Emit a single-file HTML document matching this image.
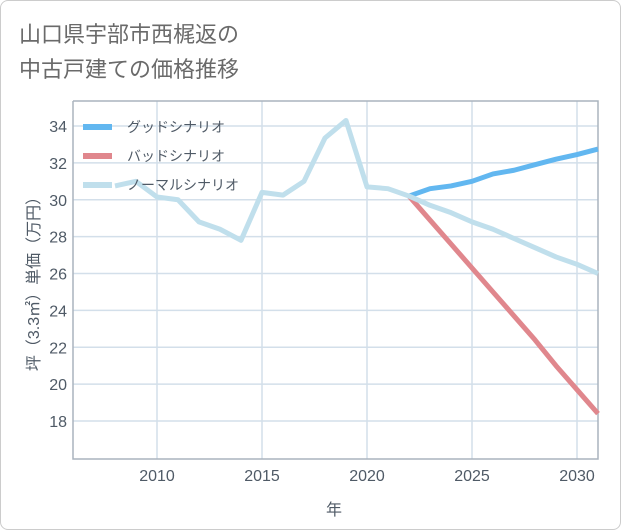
<!DOCTYPE html>
<html><head><meta charset="utf-8"><style>
body{margin:0;background:#fff;}
#wrap{position:relative;width:619px;height:528px;border:1px solid #ccc;border-radius:8px;overflow:hidden;background:#fff;}
text{font-family:"Liberation Sans","Noto Sans CJK JP",sans-serif;}
</style></head><body>
<div id="wrap">
<svg id="chart" width="621" height="530">
<text x="18" y="41" font-size="22" fill="#6a6a6a">山口県宇部市西梶返の</text>
<text x="18" y="76" font-size="22" fill="#6a6a6a">中古戸建ての価格推移</text>
<g id="grid"></g><g id="axes"></g><g id="series"></g><g id="legend"></g>
<text x="333" y="514" font-size="16" fill="#4f5a66" text-anchor="middle">年</text>
<text transform="translate(38,279) rotate(-90)" font-size="16" fill="#4f5a66" text-anchor="middle">坪（3.3㎡）単価（万円）</text>
</svg>
</div>
<script>
const years = [2008,2009,2010,2011,2012,2013,2014,2015,2016,2017,2018,2019,2020,2021,2022,2023,2024,2025,2026,2027,2028,2029,2030,2031];
const normalValues = [30.75,31.0,30.15,30.0,28.8,28.4,27.8,30.4,30.25,31.0,33.35,34.3,30.7,30.6,30.2,29.7,29.3,28.8,28.4,27.9,27.4,26.9,26.5,26.0];
const futureYears = [2022,2023,2024,2025,2026,2027,2028,2029,2030,2031];
const goodValues = [30.2,30.6,30.75,31.0,31.4,31.6,31.9,32.2,32.45,32.75];
const badValues = [30.2,28.9,27.6,26.3,25.0,23.7,22.4,21.0,19.7,18.4];
const xTicks = [2010,2015,2020,2025,2030];
const yTicks = [18,20,22,24,26,28,30,32,34];
const L=72,R=597,T=100,B=458;
const x = y => L + (y-2006)*21;
const yv = v => 125 - (v-34)*18.44;
const NS="http://www.w3.org/2000/svg";
function mk(tag, attrs, parent){const e=document.createElementNS(NS,tag);for(const k in attrs)e.setAttribute(k,attrs[k]);parent.appendChild(e);return e;}
const grid=document.getElementById('grid'), axes=document.getElementById('axes'), series=document.getElementById('series'), legend=document.getElementById('legend');
yTicks.forEach(v=>{
  const l=mk('line',{x1:L,x2:R,y1:yv(v),y2:yv(v),stroke:'#d3dfea','stroke-width':1.5},grid);
  
  
  const t=mk('text',{x:L-6,y:yv(v)+6,'font-size':16,fill:'#4f5a66','text-anchor':'end'},axes);
  t.textContent=v;
  
  
});
xTicks.forEach(v=>{
  const l=mk('line',{x1:x(v),x2:x(v),y1:T,y2:B,stroke:'#d3dfea','stroke-width':1.5},grid);
  
  
  const t=mk('text',{x:x(v),y:B+22,'font-size':16,fill:'#4f5a66','text-anchor':'middle'},axes);
  t.textContent=v;
  
  
});
const frame=mk('path',{d:`M${L},${T}V${B}H${R}V${T}H${L}`,fill:'none',stroke:'#aab4be','stroke-width':1.5},axes);


function line(xs,vs,color,name){
  const p=mk('polyline',{points:xs.map((yy,i)=>x(yy)+','+yv(vs[i])).join(' '),fill:'none',stroke:color,'stroke-width':5,'stroke-linejoin':'round'},series);
  
  
}
line(futureYears,badValues,'#e0878d','bad-scenario-line');
line(futureYears,goodValues,'#62b7f0','good-scenario-line');
line(years,normalValues,'#c0dfec','normal-scenario-line');
const leg=[['グッドシナリオ','#62b7f0','legend-good'],['バッドシナリオ','#e0878d','legend-bad'],['ノーマルシナリオ','#c0dfec','legend-normal']];
leg.forEach((d,i)=>{
  const yy=126+i*29;
  const r=mk('line',{x1:82,x2:111,y1:yy,y2:yy,stroke:d[1],'stroke-width':6},legend);
  
  
  const t=mk('text',{x:126,y:yy+5,'font-size':14,fill:'#4f5a66'},legend);
  t.textContent=d[0];
  
  
});
</script>
</body></html>
